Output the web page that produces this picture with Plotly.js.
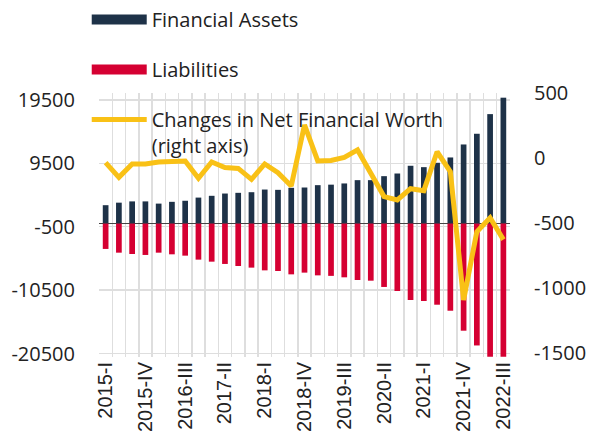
<!DOCTYPE html>
<html>
<head>
<meta charset="utf-8">
<script src="https://cdn.plot.ly/plotly-3.0.1.min.js"></script>
<style>html,body{margin:0;padding:0;background:#fff;}#chart{width:590px;height:447px;}</style>
</head>
<body>
<div id="chart"></div>
<script>
var quarters = ["2015-I","2015-II","2015-III","2015-IV","2016-I","2016-II","2016-III","2016-IV",
  "2017-I","2017-II","2017-III","2017-IV","2018-I","2018-II","2018-III","2018-IV",
  "2019-I","2019-II","2019-III","2019-IV","2020-I","2020-II","2020-III","2020-IV",
  "2021-I","2021-II","2021-III","2021-IV","2022-I","2022-II","2022-III"];
var shownLabels = ["2015-I","2015-IV","2016-III","2017-II","2018-I","2018-IV","2019-III","2020-II","2021-I","2021-IV","2022-III"];
var financialAssets = [2900,3300,3500,3500,3150,3430,3600,4100,4380,4740,4850,4950,5370,5320,5640,5690,
  6060,6140,6330,6850,6850,7480,7900,9120,8900,9590,10430,12480,14170,17270,19860];
var liabilities = [-4000,-4590,-4800,-4950,-4590,-4850,-5060,-5690,-6010,-6370,-6690,-6950,-7380,-7480,-8010,-7740,
  -8170,-8250,-8480,-8900,-9010,-10000,-10640,-12060,-12220,-12800,-13750,-16900,-19230,-21000,-21000];
var netWorthChange = [-36,-149,-46,-46,-31,-23,-23,-156,-31,-74,-80,-164,-46,-113,-215,254,
  -23,-19,5,62,-118,-297,-323,-236,-251,48,-105,-1092,-567,-460,-628];
var leftTicks = [-20500,-10500,-500,9500,19500];
var rightTicks = [-1500,-1000,-500,0,500];

var navy = "#1E3248", red = "#D50032", gold = "#F9C116";
var leftRange = [-21050, 20600], rightRange = [-1531, 500];
var tickText = quarters.map(function(q){ return shownLabels.indexOf(q) >= 0 ? q : ""; });

var traces = [
  {type:"bar", name:"Financial Assets", x:quarters, y:financialAssets, marker:{color:navy}, showlegend:false},
  {type:"bar", name:"Liabilities", x:quarters, y:liabilities, marker:{color:red}, showlegend:false},
  {type:"scatter", mode:"lines", name:"Changes in Net Financial Worth<br>(right axis)", x:quarters, y:netWorthChange,
   yaxis:"y2", line:{color:gold, width:5}, showlegend:false},
  // legend keys (no data drawn)
  {type:"scatter", mode:"lines", name:"Financial Assets", x:[null], y:[null], line:{color:navy, width:13}, legendgroup:"a"},
  {type:"scatter", mode:"lines", name:"Liabilities", x:[null], y:[null], line:{color:red, width:13}, legendgroup:"b"},
  {type:"scatter", mode:"lines", name:"Changes in Net Financial Worth<br>(right axis)", x:[null], y:[null], yaxis:"y2",
   line:{color:gold, width:5}, legendgroup:"c"}
];

var layout = {
  width:590, height:447,
  margin:{l:99, r:80, t:93, b:90, autoexpand:false},
  paper_bgcolor:"#fff", plot_bgcolor:"#fff",
  barmode:"relative", bargap:0.57,
  font:{family:"Open Sans", size:20, color:"#222"},
  showlegend:true,
  legend:{xref:"container", yref:"container", x:0.147, y:1.004, xanchor:"left", yanchor:"top",
    bgcolor:"rgba(0,0,0,0)", traceorder:"grouped", tracegroupgap:21, itemwidth:55, valign:"top",
    font:{family:"Open Sans", size:20, color:"#222"}},
  xaxis:{type:"category", categoryorder:"array", categoryarray:quarters,
    tickmode:"array", tickvals:quarters, ticktext:tickText, tickson:"boundaries",
    showgrid:true, gridcolor:"#dedede", gridwidth:1.5, tickangle:-90,
    ticks:"outside", ticklen:11, tickcolor:"rgba(0,0,0,0)",
    tickfont:{family:"Liberation Sans", size:20, color:"#222"},
    showline:false, zeroline:false, automargin:false},
  yaxis:{range:leftRange, tickmode:"array", tickvals:leftTicks, ticktext:leftTicks.map(String),
    showgrid:true, gridcolor:"#dedede", gridwidth:1.5,
    zeroline:true, zerolinecolor:"#444", zerolinewidth:1.5,
    ticks:"outside", ticklen:19, tickcolor:"rgba(0,0,0,0)", automargin:false,
    tickfont:{family:"Open Sans", size:20, color:"#222"}, showline:false},
  yaxis2:{range:rightRange, overlaying:"y", side:"right", tickmode:"array", tickvals:rightTicks, ticktext:rightTicks.map(String),
    showgrid:false, zeroline:false, ticks:"outside", ticklen:19, tickcolor:"rgba(0,0,0,0)", automargin:false,
    tickfont:{family:"Open Sans", size:20, color:"#222"}, showline:false}
};

Plotly.newPlot("chart", traces, layout, {displayModeBar:false, staticPlot:true});
</script>
</body>
</html>
